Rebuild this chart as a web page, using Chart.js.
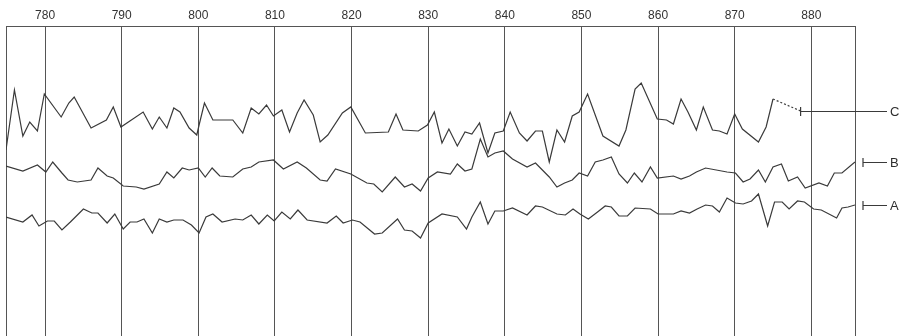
<!DOCTYPE html>
<html>
<head>
<meta charset="utf-8">
<script src="https://cdn.jsdelivr.net/npm/chart.js@4"></script>
<style>
  html, body { margin: 0; padding: 0; background: #fff; }
  #wrap { width: 908px; height: 336px; position: relative; }
</style>
</head>
<body>
<div id="wrap"><canvas id="traceChart"></canvas></div>
<script>
// x positions (same units as the top axis) and trace levels
var xTicks = [780, 790, 800, 810, 820, 830, 840, 850, 860, 870, 880];
var xMin = 774.9, xMax = 885.7;

var traceCX = [774.9, 776.0, 777.1, 778.0, 779.0, 779.9, 782.1, 783.1, 783.8, 786.0,
  788.0, 788.9, 789.9, 792.8, 794.0, 794.9, 795.9, 796.8, 797.6, 798.8,
  799.8, 800.1, 800.8, 801.9, 804.5, 805.8, 806.9, 807.9, 808.9, 809.8,
  810.9, 811.9, 812.9, 813.8, 815.0, 815.9, 816.9, 818.8, 819.9, 821.8,
  824.8, 825.8, 826.7, 828.7, 829.9, 830.8, 831.8, 832.7, 833.8, 834.8,
  835.7, 836.7, 837.8, 838.7, 839.8, 840.7, 841.9, 842.9, 844.0, 844.9,
  845.8, 846.8, 847.8, 848.8, 849.7, 850.8, 852.8, 854.9, 855.8, 857.0,
  857.8, 859.9, 861.1, 862.0, 863.0, 863.9, 865.0, 865.9, 867.1, 868.0,
  869.0, 870.0, 871.0, 873.1, 874.1, 875.0];
var traceCY = [186, 246, 200, 214, 205, 242, 219, 233, 239, 208,
  216, 229, 209, 224, 207, 219, 208, 228, 224, 208,
  201, 211, 233, 216, 216, 203, 228, 222, 231, 220,
  226, 204, 223, 236, 221, 194, 201, 223, 229, 203,
  204, 222, 206, 205, 211, 224, 193, 207, 190, 204,
  202, 213, 183, 203, 205, 224, 203, 195, 205, 205,
  174, 206, 194, 220, 224, 242, 200, 190, 206, 247,
  253, 217, 216, 212, 237, 224, 206, 229, 206, 205,
  202, 222, 207, 194, 209, 237];
// dotted continuation of C up to its label
var traceCGapX = [875.0, 878.6];
var traceCGapY = [237, 225];

var traceBX = [774.9, 777.1, 779.0, 780.1, 781.0, 782.2, 783.0, 784.2, 786.0, 786.9,
  788.1, 788.9, 790.2, 791.9, 792.9, 794.9, 795.9, 796.8, 797.9, 798.8,
  800.0, 800.9, 801.8, 802.8, 804.5, 805.8, 806.9, 807.9, 809.8, 811.1,
  812.9, 814.1, 815.9, 816.8, 817.9, 819.9, 822.0, 822.9, 824.0, 825.7,
  826.9, 827.9, 829.0, 830.0, 831.2, 832.9, 833.8, 834.8, 835.7, 836.8,
  837.8, 838.7, 839.8, 841.0, 842.9, 844.0, 845.8, 846.8, 847.8, 848.8,
  849.7, 850.8, 851.8, 852.8, 853.9, 854.9, 856.0, 856.9, 857.9, 859.0,
  859.9, 862.0, 863.0, 864.1, 865.0, 866.2, 869.0, 870.1, 871.1, 872.0,
  873.1, 874.0, 875.0, 876.1, 877.0, 878.2, 879.2, 881.0, 882.1, 883.0,
  884.0, 885.7];
var traceBY = [170, 165, 171, 164, 174, 163, 156, 154, 156, 168,
  160, 158, 150, 149, 147, 152, 164, 158, 168, 166,
  168, 159, 168, 160, 159, 167, 169, 174, 176, 167,
  174, 168, 156, 155, 167, 162, 153, 152, 144, 159,
  149, 152, 145, 158, 164, 162, 172, 165, 167, 197,
  179, 183, 185, 177, 169, 173, 159, 149, 153, 156,
  163, 160, 174, 176, 179, 162, 153, 163, 154, 169,
  158, 160, 157, 160, 164, 168, 164, 163, 154, 157,
  166, 154, 169, 172, 155, 159, 148, 153, 150, 163,
  163, 174];

var traceAX = [774.9, 777.1, 778.3, 779.2, 780.3, 781.2, 782.2, 783.3, 785.0, 786.1,
  786.9, 788.1, 789.1, 790.2, 791.1, 792.0, 792.9, 794.0, 794.9, 795.9,
  796.8, 798.0, 799.1, 800.1, 801.0, 801.9, 803.1, 804.8, 805.8, 806.9,
  807.9, 809.0, 809.9, 810.9, 812.0, 813.0, 814.2, 816.8, 818.0, 818.9,
  820.1, 821.1, 823.0, 824.0, 826.0, 826.9, 827.9, 829.0, 830.0, 831.8,
  833.8, 835.0, 835.7, 836.8, 837.8, 838.7, 839.8, 841.0, 842.9, 844.0,
  844.9, 846.8, 847.9, 848.9, 849.8, 850.9, 852.1, 853.1, 853.9, 854.9,
  856.0, 857.0, 859.0, 860.0, 862.0, 863.0, 864.1, 865.1, 866.2, 867.1,
  868.0, 869.0, 870.1, 871.1, 872.2, 873.1, 874.3, 875.2, 876.2, 877.1,
  878.2, 879.1, 880.3, 881.3, 883.3, 884.0, 884.8, 885.7];
var traceAY = [119, 114, 121, 110, 115, 115, 106, 114, 127, 123,
  123, 113, 122, 107, 114, 114, 117, 103, 117, 114,
  116, 116, 111, 103, 119, 122, 114, 117, 116, 121,
  112, 121, 115, 124, 117, 126, 116, 113, 120, 113,
  116, 114, 102, 103, 117, 106, 105, 98, 113, 122,
  119, 107, 119, 134, 112, 125, 125, 128, 121, 130,
  129, 122, 121, 127, 122, 117, 124, 130, 129, 120,
  120, 128, 127, 122, 122, 125, 123, 127, 131, 130,
  124, 138, 133, 132, 135, 142, 110, 134, 134, 127,
  135, 134, 127, 126, 118, 128, 129, 131];

// trace name tags on the right, at each trace's level
var tagNames = ['C', 'B', 'A'];
var tagLevels = [225, 174, 131];
var tagCapAt = [878.6, null, null];

var ink = '#3a3a3a';

function pts(xs, ys) {
  return xs.map(function(x, i) { return { x: x, y: ys[i] }; });
}

var tagPlugin = {
  id: 'tags',
  afterDraw: function(chart) {
    var ctx = chart.ctx, area = chart.chartArea;
    var xs = chart.scales.x, ys = chart.scales.y;
    ctx.save();
    ctx.strokeStyle = ink;
    ctx.fillStyle = '#2e2e2e';
    ctx.lineWidth = 1.2;
    ctx.font = '13px "Liberation Sans", Arial, sans-serif';
    ctx.textBaseline = 'middle';
    tagNames.forEach(function(name, i) {
      var y = Math.round(ys.getPixelForValue(tagLevels[i])) + 0.5;
      var x0 = tagCapAt[i] !== null ? xs.getPixelForValue(tagCapAt[i]) : area.right + 8;
      var x1 = area.right + 32;
      ctx.beginPath();
      ctx.moveTo(x0, y - 4.5);
      ctx.lineTo(x0, y + 4.5);
      ctx.moveTo(x0, y);
      ctx.lineTo(x1, y);
      ctx.stroke();
      ctx.fillText(name, x1 + 3, y + 0.5);
    });
    ctx.restore();
  }
};

document.addEventListener('DOMContentLoaded', function() {
  Chart.defaults.font.family = '"Liberation Sans", Arial, sans-serif';
  Chart.defaults.color = '#333';

  var lineStyle = {
    borderColor: ink,
    borderWidth: 1.2,
    pointRadius: 0,
    tension: 0,
    fill: false
  };

  new Chart(document.getElementById('traceChart'), {
    type: 'line',
    data: {
      datasets: [
        Object.assign({ label: 'C', data: pts(traceCX, traceCY) }, lineStyle),
        Object.assign({ label: 'C gap', data: pts(traceCGapX, traceCGapY), borderDash: [2, 2] }, lineStyle),
        Object.assign({ label: 'B', data: pts(traceBX, traceBY) }, lineStyle),
        Object.assign({ label: 'A', data: pts(traceAX, traceAY) }, lineStyle)
      ]
    },
    options: {
      responsive: true,
      maintainAspectRatio: false,
      animation: false,
      layout: { padding: { left: 6, right: 53, top: 0, bottom: 0 } },
      plugins: { legend: { display: false }, tooltip: { enabled: false } },
      scales: {
        x: {
          type: 'linear',
          position: 'top',
          min: xMin,
          max: xMax,
          afterBuildTicks: function(s) {
            s.ticks = [{ value: xMin }].concat(xTicks.map(function(v) { return { value: v }; }), [{ value: xMax }]);
          },
          afterFit: function(s) { s.height = 26; },
          ticks: {
            autoSkip: false,
            maxRotation: 0,
            padding: 3,
            font: { size: 12 },
            color: '#333',
            callback: function(v) { return xTicks.indexOf(v) !== -1 ? String(v) : ''; }
          },
          grid: { color: '#555', lineWidth: 1, drawTicks: false },
          border: { display: true, color: '#555', width: 1 }
        },
        y: {
          display: false,
          min: 0,
          max: 310
        }
      }
    },
    plugins: [tagPlugin]
  });
});
</script>
</body>
</html>
